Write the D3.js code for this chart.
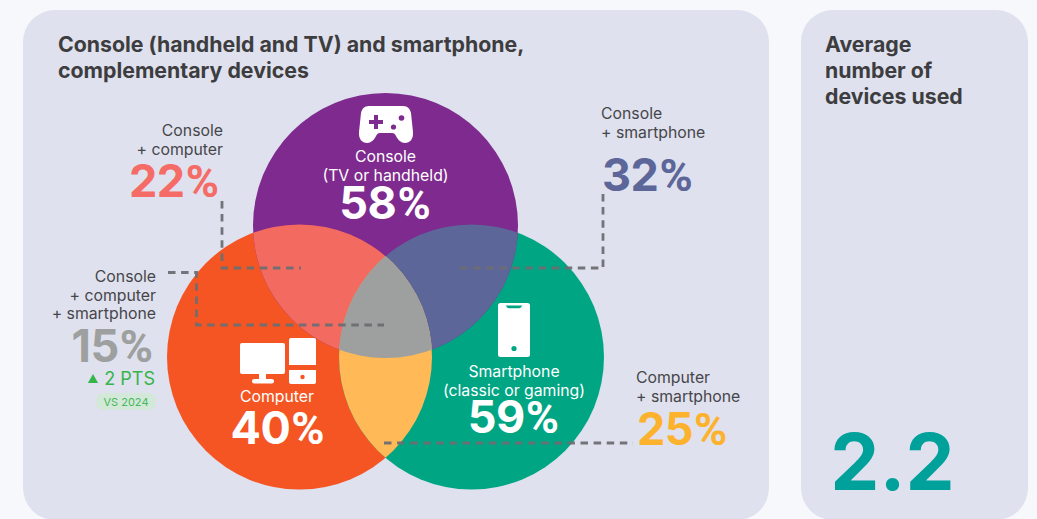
<!DOCTYPE html>
<html>
<head>
<meta charset="utf-8">
<script src="https://cdn.jsdelivr.net/npm/d3@7"></script>
<style>
html,body{margin:0;padding:0;background:#f7f8fc;overflow:hidden}
svg{display:block;font-family:Inter,"Noto Sans",sans-serif}
</style>
</head>
<body>
<svg id="chart" width="1037" height="519"></svg>
<script>
// Survey figures
const regionNames = ["Console", "Computer", "Smartphone"];
const regionValues = [58, 40, 59];
const pairValues = { consoleComputer: 22, consoleSmartphone: 32, computerSmartphone: 25 };
const allThreeValue = 15;
const allThreeChange = 2;
const averageDevices = 2.2;

// Diagram layout in page pixels
const R = 132.5;
const centers = { Console: [385.5, 225.5], Computer: [299.5, 357], Smartphone: [471.5, 357] };
const fill = {
  Console: "#7e2a8e", Computer: "#f45523", Smartphone: "#00a583",
  cc: "#f36b60", cs: "#5c6699", ps: "#ffba57", all: "#9da09e"
};

const svg = d3.select("#chart");
const defs = svg.append("defs");
svg.append("rect").attr("width", 1037).attr("height", 519).attr("fill", "#f7f8fc");

// Cards
const cards = [[23, 10, 746, 510], [801, 10, 227, 510]];
svg.selectAll("rect.card").data(cards).join("rect").attr("class", "card")
  .attr("x", d => d[0]).attr("y", d => d[1]).attr("width", d => d[2]).attr("height", d => d[3])
  .attr("rx", 32).attr("fill", "#dfe1ee");

// Clip paths used to build the overlaps
regionNames.forEach(n => {
  defs.append("clipPath").attr("id", "clip" + n).append("circle")
    .attr("cx", centers[n][0]).attr("cy", centers[n][1]).attr("r", R);
});

const circle = (parent, name, color) => parent.append("circle")
  .attr("cx", centers[name][0]).attr("cy", centers[name][1]).attr("r", R).attr("fill", color);

const venn = svg.append("g");
circle(venn, "Computer", fill.Computer);
circle(venn, "Smartphone", fill.Smartphone);
circle(venn, "Console", fill.Console);

const overlap = (a, b, color) => {
  const g = venn.append("g").attr("clip-path", `url(#clip${a})`);
  return circle(g, b, color);
};
overlap("Console", "Computer", fill.cc);
overlap("Console", "Smartphone", fill.cs);
overlap("Computer", "Smartphone", fill.ps);
const inner = venn.append("g").attr("clip-path", "url(#clipConsole)").append("g").attr("clip-path", "url(#clipComputer)");
circle(inner, "Smartphone", fill.all);

// Dashed leader lines
const leaders = [
  [[222, 201], [222, 268], [301, 268]],
  [[168, 272.5], [196.5, 272.5], [196.5, 325], [384, 325]],
  [[603, 194], [603, 268], [460, 268]],
  [[384, 443], [633, 443]]
];
const line = d3.line();
svg.append("g").selectAll("path").data(leaders).join("path")
  .attr("d", line).attr("fill", "none").attr("stroke", "#6d6e72")
  .attr("stroke-width", 2.8).attr("stroke-dasharray", "7.5 5.6").attr("stroke-opacity", .95);

// Text helpers
function label(x, y, str, size, weight, color, anchor = "start") {
  return svg.append("text").attr("x", x).attr("y", y).text(str)
    .attr("font-size", size).attr("font-weight", weight).attr("fill", color).attr("text-anchor", anchor);
}
// Large percentage: digits in Inter, a narrower percent sign in Roboto
function pct(x, y, value, color, anchor = "start") {
  const t = svg.append("text").attr("x", x).attr("y", y)
    .attr("font-size", 45).attr("font-weight", 700).attr("fill", color).attr("text-anchor", anchor);
  t.append("tspan").attr("letter-spacing", -0.5).text(value);
  t.append("tspan").attr("font-family", "Roboto").attr("dx", 1).text("%");
  return t;
}
const ink = "#46464a", head = "#3d3d40";
const small = 15.8, heading = 21.3;

label(58, 52, "Console (handheld and TV) and smartphone,", heading, 700, head);
label(58, 78, "complementary devices", heading, 700, head);
label(825, 52, "Average", heading, 700, head);
label(825, 78, "number of", heading, 700, head);
label(825, 104, "devices used", heading, 700, head);

// Region labels
label(385.5, 162, "Console", small, 400, "#fff", "middle");
label(385.5, 181, "(TV or handheld)", small, 400, "#fff", "middle");
pct(385, 219, regionValues[0], "#fff", "middle");
label(277, 402, "Computer", small, 400, "#fff", "middle");
pct(277.5, 444, regionValues[1], "#fff", "middle");
label(514, 377, "Smartphone", small, 400, "#fff", "middle");
label(514, 396, "(classic or gaming)", small, 400, "#fff", "middle");
pct(513.5, 433, regionValues[2], "#fff", "middle");

// Pair and triple callouts
label(223, 136, "Console", small, 400, ink, "end");
label(223, 155, "+ computer", small, 400, ink, "end");
pct(219, 197, pairValues.consoleComputer, "#f56b65", "end");

label(601, 119, "Console", small, 400, ink);
label(601, 138, "+ smartphone", small, 400, ink);
pct(602, 191, pairValues.consoleSmartphone, "#5c6699");

label(636, 383, "Computer", small, 400, ink);
label(636, 402, "+ smartphone", small, 400, ink);
pct(637, 445, pairValues.computerSmartphone, "#fdb22d");

label(156, 282, "Console", small, 400, ink, "end");
label(156, 301, "+ computer", small, 400, ink, "end");
label(156, 319, "+ smartphone", small, 400, ink, "end");
pct(153, 362, allThreeValue, "#9da09e", "end");
label(155, 385, allThreeChange + " PTS", 18, 400, "#35b54a", "end");
svg.append("path").attr("d", d3.symbol(d3.symbolTriangle, 45)()).attr("transform", "translate(93,380)").attr("fill", "#35b54a");
svg.append("rect").attr("x", 96).attr("y", 393).attr("width", 60).attr("height", 17).attr("rx", 7).attr("fill", "#d3e8d8");
label(126, 405.5, "VS 2024", 11, 400, "#45b85a", "middle");

label(892.5, 490, averageDevices.toFixed(1), 78, 700, "#00a09b", "middle");

// Device icons
const icons = svg.append("g").attr("fill", "#fff");
// Gamepad
const pad = icons.append("g").attr("transform", "translate(359,106)");
pad.append("path").attr("d", "M10 0H44C49 0 51 3 52 7L54 26C54.5 33 51 37 46 37C42 37 39 34 37 30C36 28 35 27 33 27H21C19 27 18 28 17 30C15 34 12 37 8 37C3 37 -0.5 33 0 26L2 7C3 3 5 0 10 0Z");
pad.append("path").attr("fill", fill.Console).attr("d", "M15 9H19V14H24V18H19V23H15V18H10V14H15Z");
pad.append("circle").attr("fill", fill.Console).attr("cx", 34.5).attr("cy", 21).attr("r", 2.6);
pad.append("circle").attr("fill", fill.Console).attr("cx", 42.5).attr("cy", 12).attr("r", 2.8);

// Monitor and tower
const pc = icons.append("g").attr("transform", "translate(240,338)");
pc.append("rect").attr("x", 0).attr("y", 5).attr("width", 45).attr("height", 31).attr("rx", 2);
pc.append("rect").attr("x", 19).attr("y", 35).attr("width", 7).attr("height", 6);
pc.append("rect").attr("x", 12).attr("y", 41).attr("width", 22).attr("height", 4.5).attr("rx", 2.2);
pc.append("path").attr("d", "M51 0H74Q76 0 76 2V27H49V2Q49 0 51 0Z");
pc.append("path").attr("d", "M49 32H76V44Q76 46 74 46H51Q49 46 49 44Z");
pc.append("circle").attr("cx", 62.5).attr("cy", 39).attr("r", 2.2).attr("fill", fill.Computer);

// Phone
const phone = icons.append("g").attr("transform", "translate(498,303)");
phone.append("rect").attr("width", 32).attr("height", 54).attr("rx", 2.5);
phone.append("path").attr("fill", fill.Smartphone).attr("d", "M8 2.5H24C23.5 4.5 22.5 5.2 21 5.2H11C9.5 5.2 8.5 4.5 8 2.5Z");
phone.append("circle").attr("cx", 16).attr("cy", 45.5).attr("r", 2.6).attr("fill", fill.Smartphone);
</script>
</body>
</html>
